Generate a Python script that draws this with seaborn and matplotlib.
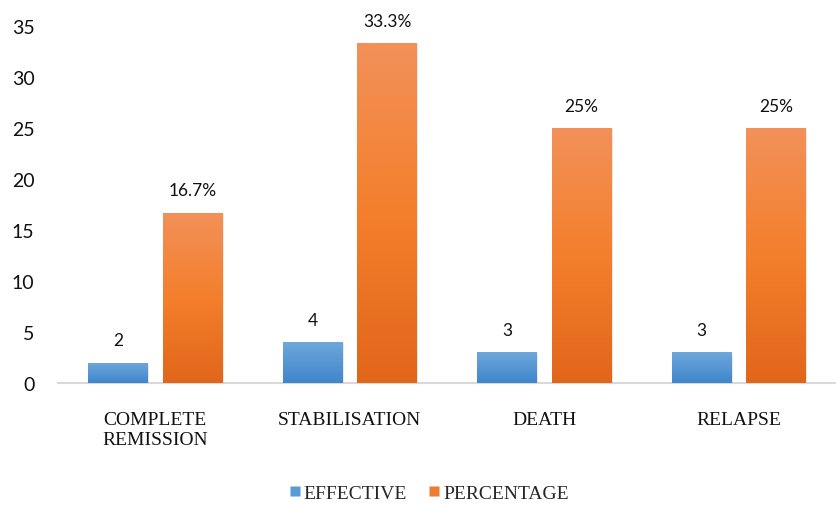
import numpy as np
import pandas as pd
import matplotlib
matplotlib.use("Agg")
import matplotlib.pyplot as plt
import matplotlib.patheffects as pe
from matplotlib.colors import LinearSegmentedColormap
from matplotlib.lines import Line2D
import seaborn as sns

# Outcome categories and the two series shown for each
categories = ["COMPLETE\nREMISSION", "STABILISATION", "DEATH", "RELAPSE"]
effective = [2, 4, 3, 3]
percentage = [16.7, 33.3, 25, 25]
percentage_labels = ["16.7%", "33.3%", "25%", "25%"]
series_names = ["EFFECTIVE", "PERCENTAGE"]

df = pd.DataFrame({
    "category": categories * 2,
    "series": [series_names[0]] * 4 + [series_names[1]] * 4,
    "value": effective + percentage,
})

sns.set_theme(style="white")
plt.rcParams["font.family"] = ["Lato", "DejaVu Sans"]

fig = plt.figure(figsize=(8.36, 5.06), dpi=100)
ax = fig.add_axes([58 / 836, 1 - 384 / 506, 1 - 58 / 836, (384 - 27) / 506])

base_colors = {"EFFECTIVE": "#5B9BD5", "PERCENTAGE": "#ED7D31"}
sns.barplot(data=df, x="category", y="value", hue="series", order=categories,
            hue_order=series_names, palette=base_colors, width=0.767, gap=0.2,
            ax=ax, legend=False, saturation=1)

gradients = {
    "EFFECTIVE": LinearSegmentedColormap.from_list("blue_grad", ["#3F86CB", "#6EA7DC"]),
    "PERCENTAGE": LinearSegmentedColormap.from_list("orange_grad", ["#E1661A", "#F47F2C", "#F29159"]),
}

grad = np.linspace(0, 1, 256).reshape(-1, 1)
for container, name in zip(ax.containers, series_names):
    for bar in container:
        x0, w, h = bar.get_x(), bar.get_width(), bar.get_height()
        bar.set_edgecolor("none")
        bar.set_path_effects([pe.SimplePatchShadow(offset=(1.0, -0.8), shadow_rgbFace="#AAAAAA", alpha=0.25),
                              pe.Normal()])
        img = ax.imshow(grad, extent=[x0, x0 + w, 0, h], origin="lower",
                        cmap=gradients[name], aspect="auto", zorder=bar.get_zorder() + 0.1)
        img.set_clip_path(bar)

# Value labels above bars
label_sets = [[str(v) for v in effective], percentage_labels]
for container, labels in zip(ax.containers, label_sets):
    for bar, lab in zip(container, labels):
        ax.annotate(lab, (bar.get_x() + bar.get_width() / 2, bar.get_height()),
                    xytext=(0, 16), textcoords="offset points",
                    ha="center", va="center", fontsize=12.5, color="#111111")

ax.set_xlim(-0.5, 3.5)
ax.set_ylim(0, 35)
ax.set_yticks(range(0, 36, 5))
ax.set_xlabel("")
ax.set_ylabel("")
for side in ["top", "right", "left"]:
    ax.spines[side].set_visible(False)
ax.spines["bottom"].set_color("#D9D9D9")
ax.spines["bottom"].set_linewidth(1.5)
ax.spines["bottom"].set_zorder(0.5)
ax.tick_params(axis="y", length=0, pad=17, labelsize=14, labelcolor="#111111")
ax.tick_params(axis="x", length=0, pad=20)
for t in ax.get_xticklabels():
    t.set_family(["Liberation Serif", "DejaVu Serif"])
    t.set_fontsize(14)
    t.set_linespacing(1.25)
    t.set_multialignment("center")
    t.set_color("#111111")

handles = [Line2D([], [], marker="s", linestyle="none", markersize=7,
                  markerfacecolor=base_colors[n], markeredgecolor="none") for n in series_names]
fig.legend(handles, series_names, loc="center", bbox_to_anchor=(428 / 836, 1 - 494 / 506),
           ncol=2, frameon=False, handletextpad=0.05, columnspacing=1.0, handlelength=0.8,
           prop={"family": ["Liberation Serif", "DejaVu Serif"], "size": 14})

fig.savefig("out.png", dpi=100)
